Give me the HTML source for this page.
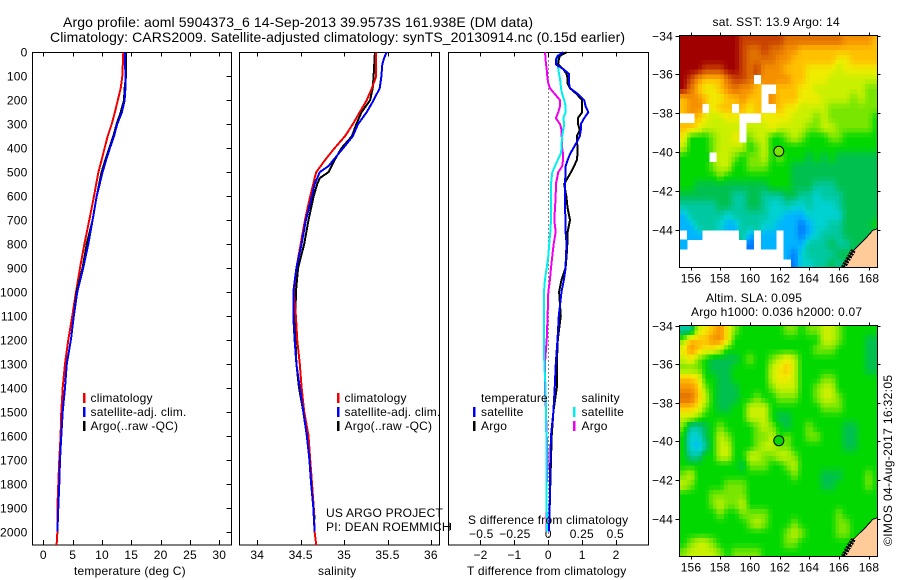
<!DOCTYPE html>
<html lang="en">
<head>
<meta charset="utf-8">
<title>Argo profile 5904373_6</title>
<style>
html,body{margin:0;padding:0;background:#fff;}
svg{display:block;}
text{font-family:"Liberation Sans",sans-serif;font-size:12px;fill:#000;letter-spacing:0.2px;}
.title{font-size:14px;letter-spacing:0;}
</style>
</head>
<body>
<svg id="chart" xmlns="http://www.w3.org/2000/svg" width="900" height="580" viewBox="0 0 900 580">
  <text class="title" x="63" y="27" textLength="470" lengthAdjust="spacing">Argo profile: aoml 5904373_6 14-Sep-2013 39.9573S 161.938E (DM data)</text>
  <text class="title" x="50" y="42" textLength="575" lengthAdjust="spacing">Climatology: CARS2009. Satellite-adjusted climatology: synTS_20130914.nc (0.15d earlier)</text>

  <g id="layer-profiles"></g>
  <g id="layer-maps"></g>

  <text x="74" y="575">temperature (deg C)</text>
  <text x="318" y="575">salinity</text>
  <text x="467" y="575">T difference from climatology</text>
  <text x="468" y="524">S difference from climatology</text>

  <rect x="83" y="393" width="2.5" height="10" fill="#f00000"/>
  <text x="90.500" y="402">climatology</text>
  <rect x="83" y="407" width="2.5" height="10" fill="#0000f0"/>
  <text x="90.500" y="416">satellite-adj. clim.</text>
  <rect x="83" y="421" width="2.5" height="10" fill="#000"/>
  <text x="90.500" y="430">Argo(..raw -QC)</text>

  <rect x="337" y="393" width="2.5" height="10" fill="#f00000"/>
  <text x="344.500" y="402">climatology</text>
  <rect x="337" y="407" width="2.5" height="10" fill="#0000f0"/>
  <text x="344.500" y="416">satellite-adj. clim.</text>
  <rect x="337" y="421" width="2.5" height="10" fill="#000"/>
  <text x="344.500" y="430">Argo(..raw -QC)</text>

  <text x="481" y="402">temperature</text>
  <rect x="473" y="407" width="2.5" height="10" fill="#0000f0"/>
  <text x="481" y="416">satellite</text>
  <rect x="473" y="421" width="2.5" height="10" fill="#000"/>
  <text x="481" y="430">Argo</text>
  <text x="581.500" y="402">salinity</text>
  <rect x="573" y="407" width="2.5" height="10" fill="#00f0f0"/>
  <text x="581.500" y="416">satellite</text>
  <rect x="573" y="421" width="2.5" height="10" fill="#f000f0"/>
  <text x="581.500" y="430">Argo</text>

  <text x="326" y="517">US ARGO PROJECT</text>
  <text x="326" y="531">PI: DEAN ROEMMICH</text>

  <text x="712.500" y="26">sat. SST: 13.9 Argo: 14</text>
  <text x="706" y="302">Altim. SLA: 0.095</text>
  <text x="691" y="316">Argo h1000: 0.036 h2000: 0.07</text>
  <text transform="translate(892,546) rotate(-90)" style="letter-spacing:0.35px">©IMOS 04-Aug-2017 16:32:05</text>
</svg>
<script>
const depthTicks = [0,100,200,300,400,500,600,700,800,900,1000,1100,1200,1300,1400,1500,1600,1700,1800,1900,2000];
const tempTicks = [0,5,10,15,20,25,30];
const salTicks = [34,34.5,35,35.5,36];
const tDiffTicks = [-2,-1,0,1,2];
const sDiffTicks = [-0.5,-0.25,0,0.25,0.5];
const sDiffTickLabels = ['−0.5','−0.25','0','0.25','0.5'];
const tDiffTickLabels = ['−2','−1','0','1','2'];
const lonTicks = [156,158,160,162,164,166,168];
const latTicks = [-34,-36,-38,-40,-42,-44];

const tempClimDepth = [0,100,150,200,250,300,350,400,450,500,600,700,800,900,1000,1100,1200,1300,1400,1500,1600,1700,1800,1900,2000,2057];
const tempClim = [13.64,13.47,13.2,12.7,12.2,11.65,10.97,10.45,9.94,9.4,8.64,7.84,7,6.25,5.57,4.94,4.26,3.7,3.3,3.07,2.95,2.73,2.56,2.4,2.4,2.27];
const tempSatDepth = [0,100,150,200,250,300,350,400,450,500,600,700,800,900,1000,1100,1200,1300,1400,1500,1600,1700,1800,1900,2000];
const tempSat = [13.9,14,14,13.86,13.4,12.6,12.05,11.36,10.7,10.1,9.1,8.4,7.67,6.8,5.8,5.2,4.7,4,3.7,3.3,3.07,2.84,2.73,2.56,2.4];
const tempArgo = [14.1,14.1,13.86,13.75,13.2,12.5,11.93,11.25,10.57,9.94,9.1,8.4,7.4,6.7,5.7,5.2,4.7,4,3.7,3.3,3.07,2.84,2.73,2.56,2.4];

const salClimDepth = [0,100,150,200,250,300,350,400,450,500,525,550,600,700,800,900,1000,1100,1200,1300,1400,1500,1600,1700,1800,1900,2000,2057];
const salClim = [35.37,35.37,35.32,35.26,35.18,35.1,35.01,34.89,34.78,34.68,34.66,34.645,34.61,34.55,34.5,34.45,34.42,34.445,34.46,34.49,34.51,34.54,34.59,34.61,34.63,34.65,34.66,34.68];
const salSatDepth = [0,25,50,100,150,200,250,300,350,400,450,475,500,550,600,700,800,900,1000,1100,1200,1300,1400,1500,1600,1700,1800,1900,2000];
const salSat = [35.49,35.46,35.44,35.43,35.41,35.34,35.26,35.16,35.1,34.99,34.875,34.82,34.72,34.66,34.63,34.56,34.51,34.45,34.415,34.415,34.43,34.45,34.49,34.53,34.57,34.6,34.62,34.645,34.66];
const salArgoDepth = [0,100,150,200,250,300,350,400,450,500,525,550,600,700,800,900,1000,1100,1200,1300,1400,1500,1600,1700,1800,1900,1950];
const salArgo = [35.355,35.34,35.33,35.3,35.2,35.14,35.09,34.97,34.89,34.82,34.72,34.69,34.65,34.59,34.54,34.47,34.445,34.44,34.44,34.45,34.48,34.53,34.57,34.6,34.625,34.65,34.66];

const diffDepths = [0,15,30,50,70,90,110,130,150,175,200,225,250,275,300,325,350,375,400,425,450,475,500,550,600,650,700,750,800,850,900,950,1000,1100,1200,1300,1400,1500,1600,1700,1800,1900,2000];
const tDiffSat = [.44,.28,.22,.22,.44,.61,.61,.61,.64,.88,1.06,1.10,1.18,1.06,.96,.96,.93,.84,.74,.64,.57,.51,.51,.49,.49,.49,.51,.51,.54,.52,.51,.46,.39,.31,.27,.22,.19,.15,.08,.06,.05,.04,.02];
const tDiffArgo = [.54,.34,.31,.29,.44,.54,.57,.57,.64,.84,1.0,1.0,1.0,.87,.88,.93,.84,.85,.86,.86,.84,.76,.67,.47,.53,.57,.64,.57,.56,.54,.51,.39,.32,.37,.28,.25,.25,.15,.1,.08,.06,.04,.02];
const sDiffSat = [.112,.087,.062,.07,.075,.08,.087,.092,.095,.104,.119,.129,.129,.112,.119,.112,.104,.1,.1,.092,.07,.05,.03,.02,.02,.02,.02,.015,.007,0,-.012,-.025,-.032,-.032,-.032,-.03,-.02,-.017,-.015,-.015,-.012,-.012,-.01];
const sDiffArgo = [-.025,-.022,-.02,-.017,-.012,-.01,-.005,0,.012,.05,.087,.087,.075,.057,.087,.1,.1,.104,.104,.11,.11,.104,.075,.057,.055,.05,.045,.055,.04,.03,.02,.012,0,-.005,-.012,-.025,-.025,-.017,-.012,-.005,-.012,-.012,-.012];

const sstLevels = [
[13,13,13,13,13,13,13,13,12,12,12,12,12,12,11,11,11,11,11,11,11,11,10,10,10,10,9],
[13,13,13,13,13,13,13,13,12,11,11,12,11,11,10,10,9,9,9,9,9,9,9,9,9,9,9],
[13,13,13,13,13,13,13,13,12,11,11,11,11,10,10,9,9,9,9,9,9,8,8,9,9,9,9],
[13,13,13,12,12,12,13,13,12,11,12,10,10,10,9,9,9,8,8,8,8,7,8,8,8,8,8],
[13,12,10,9,9,9,11,12,12,11,-1,10,10,10,10,9,9,8,8,8,7,7,7,7,7,7,7],
[13,11,9,8,8,9,10,11,10,10,9,-1,-1,9,9,9,8,8,7,7,7,7,7,7,7,6,6],
[9,10,10,9,8,8,9,9,10,9,9,-1,10,9,9,9,8,8,8,7,7,7,7,6,7,6,6],
[9,10,10,-1,8,9,9,-1,9,8,9,-1,-1,9,8,8,7,7,7,7,6,6,6,6,6,6,6],
[-1,-1,9,8,7,7,8,8,-1,-1,-1,8,8,8,8,7,7,7,6,7,6,6,6,6,6,6,5],
[9,9,8,7,7,7,7,7,-1,7,7,7,8,7,7,7,7,6,6,7,7,6,6,6,6,6,5],
[8,5,5,5,6,7,7,8,-1,6,7,7,5,5,6,7,6,5,5,5,6,6,5,5,5,5,5],
[7,5,5,5,6,7,7,7,7,5,6,7,5,5,5,5,5,5,5,5,5,5,5,5,5,5,5],
[5,5,5,5,-1,7,7,6,5,6,6,7,5,6,5,5,5,4,5,4,5,4,4,4,4,4,4],
[5,5,5,5,6,7,7,5,5,6,6,6,5,5,5,4,4,4,4,4,4,4,4,4,4,4,4],
[5,5,5,5,5,6,5,5,5,5,5,5,5,5,5,4,4,4,4,4,4,4,4,4,4,4,4],
[5,5,4,4,4,4,4,4,4,4,4,4,5,5,5,4,4,4,3,3,3,4,4,4,4,4,4],
[4,4,4,4,4,4,4,3,3,4,4,3,3,3,4,4,3,3,2,3,3,3,4,4,4,4,4],
[3,3,3,3,3,4,4,3,3,4,4,3,2,2,3,2,2,3,2,2,2,3,4,4,4,4,4],
[1,3,3,3,3,3,2,3,3,3,3,3,2,2,1,1,1,2,2,2,2,2,4,4,4,4,4],
[1,1,3,3,3,2,1,1,3,3,3,2,2,1,1,1,0,1,2,2,3,3,4,4,4,4,5],
[-1,1,1,-1,-1,-1,-1,-1,3,1,-1,1,1,-1,1,1,0,1,2,3,3,3,4,4,4,4,4],
[1,-1,-1,-1,-1,-1,-1,-1,-1,0,-1,1,1,-1,1,1,1,3,3,3,4,3,3,4,4,4,4],
[-1,-1,-1,-1,-1,-1,-1,-1,-1,-1,-1,-1,-1,-1,1,0,2,3,3,3,3,4,4,4,4,4,4],
[-1,-1,-1,-1,-1,-1,-1,-1,-1,-1,-1,-1,-1,-1,-1,0,2,2,3,3,4,3,4,4,4,4,4]
];
const slaLevels = [
[3,3,7,8,9,10,8,6,5,5,5,5,5,5,6,6,5,6,6,7,7,6,5,5,5,5,5],
[6,9,9,9,10,10,8,5,5,5,5,5,5,5,5,5,5,5,5,7,7,6,5,5,5,4,4],
[8,10,9,8,8,7,5,5,5,5,5,5,5,5,5,5,5,5,6,6,6,5,5,5,5,4,4],
[7,8,6,5,4,4,4,4,5,6,5,5,6,7,8,7,5,5,5,5,5,5,5,5,5,4,4],
[6,6,6,5,4,4,4,5,5,5,5,5,7,8,9,7,5,5,5,5,5,5,5,5,5,4,4],
[9,9,8,5,5,4,4,5,5,5,5,5,7,8,8,7,5,5,5,6,6,5,5,5,5,5,5],
[10,10,9,6,5,4,4,4,5,5,5,5,6,7,7,7,5,5,6,7,7,5,5,5,5,5,5],
[11,11,9,7,5,4,4,4,5,5,6,5,5,6,6,6,5,5,6,7,7,6,5,5,5,5,5],
[9,9,8,6,5,4,4,5,5,7,7,7,5,5,5,5,5,5,5,6,6,6,5,5,5,5,5],
[7,7,6,5,5,5,5,5,5,7,7,7,5,4,4,5,5,5,5,5,5,5,5,5,5,5,5],
[6,3,3,4,5,6,5,5,5,5,6,7,6,5,4,5,5,6,5,5,5,5,4,4,5,5,5],
[5,2,2,4,5,7,6,5,5,5,6,6,7,5,6,5,5,6,6,5,5,5,4,4,5,5,5],
[5,2,1,3,5,7,7,5,5,5,6,7,7,6,6,5,5,5,5,5,5,5,4,4,5,5,5],
[5,3,3,5,5,7,7,5,5,7,7,6,6,7,7,6,5,5,5,5,5,5,5,5,5,5,5],
[5,5,5,5,5,5,5,5,4,6,6,6,5,5,6,7,5,5,5,5,5,5,5,5,5,5,5],
[6,7,5,5,5,5,5,5,5,5,5,5,5,5,5,6,5,5,5,4,4,4,5,5,5,6,5],
[7,6,5,5,5,5,6,6,6,5,5,5,5,5,5,5,5,5,5,4,4,5,5,5,5,6,5],
[5,5,5,5,6,6,6,6,6,5,5,5,5,5,5,5,5,5,5,5,5,5,5,5,5,5,5],
[5,5,5,5,6,7,6,6,7,5,5,5,5,5,5,5,5,5,5,5,5,5,5,5,5,5,5],
[5,5,5,5,5,6,5,5,6,6,6,6,5,5,5,5,5,5,5,5,5,6,5,5,5,5,5],
[5,5,5,5,5,5,5,5,5,6,7,6,5,5,5,6,5,5,5,5,5,6,6,5,5,5,5],
[5,5,5,5,5,5,5,5,5,5,5,5,5,5,6,7,6,5,5,5,5,6,6,5,5,5,5],
[5,6,7,7,6,5,5,5,5,5,5,5,5,5,6,6,5,5,5,5,5,5,5,5,5,5,5],
[6,7,7,7,7,6,5,6,6,6,6,5,5,5,5,5,5,5,5,5,5,5,5,5,5,5,5]
];
const levelColours = ['#0078ff','#00b4ff','#00d2d2','#00c8a0','#00c050','#00d800','#78e600','#c8f000','#f0ec00','#ffc000','#f59000','#e07000','#c84000','#a00000'];
const coastLon = [168.75,168.58,168.27,167.87,167.42,166.97,166.63,166.29];
const coastLat = [-43.95,-43.95,-44.03,-44.38,-44.72,-45.06,-45.49,-45.94];
const profileLat = -39.9573;
const profileLon = 161.938;
const sstAtProfile = 6;
const slaAtProfile = 5;

const NS = 'http://www.w3.org/2000/svg';
const profiles = document.getElementById('layer-profiles');
const maps = document.getElementById('layer-maps');
function mk(tag, attrs, parent) {
  const el = document.createElementNS(NS, tag);
  for (const k in attrs) el.setAttribute(k, attrs[k]);
  parent.appendChild(el);
  return el;
}

const plotTop = 52.5, plotBottom = 545;
const yDepth = d => 52.3 + d * 0.2396;
const xTemp = t => 43.3 + t * 5.867;
const xSal = s => 257.3 + (s - 34) * 86.8;
const xTDiff = t => 548.3 + t * 33.9;
const xSDiff = s => 548.3 + s * 134;

function drawFrame(x0, x1, name) {
  const r = mk('rect', {x:x0, y:plotTop, width:x1-x0, height:plotBottom-plotTop, fill:'none', stroke:'#000', 'stroke-width':1, 'shape-rendering':'crispEdges'}, profiles);
  
  
}
function drawXTick(x, tickName) {
  const a = mk('line', {x1:x, x2:x, y1:plotTop, y2:plotTop+4, stroke:'#000', 'shape-rendering':'crispEdges'}, profiles);
  
  
  const b = mk('line', {x1:x, x2:x, y1:plotBottom, y2:plotBottom-5, stroke:'#000', 'shape-rendering':'crispEdges'}, profiles);
  
  
}
function drawLabel(str, x, y, anchor, name, parent) {
  const t = mk('text', {x:x, y:y, 'text-anchor':anchor}, parent);
  t.textContent = str;
  
  
}
function drawSeries(depths, values, xf, colour, name) {
  const pts = depths.map((d,i) => xf(values[i]).toFixed(1) + ',' + yDepth(d).toFixed(1)).join(' ');
  const p = mk('polyline', {points:pts, fill:'none', stroke:colour, 'stroke-width':2, 'shape-rendering':'crispEdges'}, profiles);
  
  
}

drawFrame(32.5, 231.5, 'temperature-panel-frame');
drawFrame(239.5, 439.5, 'salinity-panel-frame');
drawFrame(448.5, 648.5, 'difference-panel-frame');

depthTicks.forEach(d => {
  const y = Math.round(yDepth(d)) + 0.5;
  const t = mk('line', {x1:226.5, x2:231.5, y1:y, y2:y, stroke:'#000', 'shape-rendering':'crispEdges'}, profiles);
  
  
  drawLabel(String(d), 27.5, y + 4, 'end', 'depth-tick-label', profiles);
});
tempTicks.forEach(v => {
  drawXTick(Math.round(xTemp(v)) + 0.5, 'temperature-tick');
  drawLabel(String(v), xTemp(v), 559, 'middle', 'temperature-tick-label', profiles);
});
salTicks.forEach(v => {
  drawXTick(Math.round(xSal(v)) + 0.5, 'salinity-tick');
  drawLabel(String(v), xSal(v), 559, 'middle', 'salinity-tick-label', profiles);
});
tDiffTicks.forEach((v,i) => {
  drawXTick(Math.round(xTDiff(v)) + 0.5, 't-difference-tick');
  drawLabel(tDiffTickLabels[i], xTDiff(v), 559, 'middle', 't-difference-tick-label', profiles);
});
sDiffTicks.forEach((v,i) => {
  drawLabel(sDiffTickLabels[i], xSDiff(v), 538, 'middle', 's-difference-tick-label', profiles);
});

const zeroLine = mk('line', {x1:548.5, x2:548.5, y1:plotTop, y2:plotBottom, stroke:'#000', 'stroke-dasharray':'1 3', 'shape-rendering':'crispEdges'}, profiles);


const stub = mk('path', {d:'M445 526.5H450.500M450.500 523V530', fill:'none', stroke:'#000', 'shape-rendering':'crispEdges'}, profiles);



drawSeries(tempClimDepth, tempClim, xTemp, '#f00000', 'temperature-climatology-line');
drawSeries(tempSatDepth, tempArgo, xTemp, '#000000', 'temperature-argo-line');
drawSeries(tempSatDepth, tempSat, xTemp, '#0000f0', 'temperature-satellite-line');

drawSeries(salArgoDepth, salArgo, xSal, '#000000', 'salinity-argo-line');
drawSeries(salClimDepth, salClim, xSal, '#f00000', 'salinity-climatology-line');
drawSeries(salSatDepth, salSat, xSal, '#0000f0', 'salinity-satellite-line');

drawSeries(diffDepths, sDiffArgo, xSDiff, '#f000f0', 's-difference-argo-line');
drawSeries(diffDepths, sDiffSat, xSDiff, '#00f0f0', 's-difference-satellite-line');
drawSeries(diffDepths, tDiffArgo, xTDiff, '#000000', 't-difference-argo-line');
drawSeries(diffDepths, tDiffSat, xTDiff, '#0000f0', 't-difference-satellite-line');

function levelColour(v) {
  const lo = Math.max(0, Math.min(levelColours.length - 1, Math.floor(v)));
  const hi = Math.min(levelColours.length - 1, lo + 1);
  const f = Math.max(0, Math.min(1, v - lo));
  const parse = c => [1,3,5].map(i => parseInt(c.substr(i,2), 16));
  const a = parse(levelColours[lo]), b = parse(levelColours[hi]);
  return 'rgb(' + a.map((ch,i) => Math.round(ch + (b[i]-ch)*f)).join(',') + ')';
}
function mapAxes(top, bottom, latPx) {
  return {
    left: 679.5, right: 877.5, top: top, bottom: bottom,
    x: lon => 690.7 + (lon - 156) * 14.83,
    y: lat => top + (-34 - lat) * latPx
  };
}
function drawMap(grid, ax, subdivide, cellName, prefix, dotLevel) {
  const clip = mk('clipPath', {id:prefix + '-clip'}, maps);
  mk('rect', {x:ax.left, y:ax.top, width:ax.right-ax.left, height:ax.bottom-ax.top}, clip);
  const g = mk('g', {'clip-path':'url(#' + prefix + '-clip)', 'shape-rendering':'crispEdges'}, maps);
  
  
  const sample = (r,c) => grid[Math.max(0,Math.min(grid.length-1,r))][Math.max(0,Math.min(grid[0].length-1,c))];
  const step = 0.5 / subdivide;
  for (let r = 0; r < grid.length * subdivide; r++) {
    for (let c = 0; c < grid[0].length * subdivide; c++) {
      if (grid[Math.floor(r/subdivide)][Math.floor(c/subdivide)] < 0) continue;
      const gr = (r + 0.5) / subdivide - 0.5, gc = (c + 0.5) / subdivide - 0.5;
      const r0 = Math.floor(gr), c0 = Math.floor(gc), fr = gr - r0, fc = gc - c0;
      const nbrs = [[sample(r0,c0),(1-fr)*(1-fc)],[sample(r0,c0+1),(1-fr)*fc],[sample(r0+1,c0),fr*(1-fc)],[sample(r0+1,c0+1),fr*fc]];
      let sum = 0, wt = 0;
      nbrs.forEach(n => { if (n[0] >= 0) { sum += n[0]*n[1]; wt += n[1]; } });
      const v = sum / wt;
      const lon0 = 155.25 + c * step, lat0 = -34 - r * step;
      const cell = mk('rect', {x:ax.x(lon0).toFixed(2), y:ax.y(lat0).toFixed(2), width:(ax.x(lon0+step)-ax.x(lon0)+0.5).toFixed(2), height:(ax.y(lat0-step)-ax.y(lat0)+0.5).toFixed(2), fill:levelColour(v)}, g);
      
      
    }
  }
  const cx = coastLon.map(ax.x), cy = coastLat.map(ax.y);
  const coastPts = cx.map((x,i) => x.toFixed(1) + ',' + cy[i].toFixed(1));
  const land = mk('polygon', {points:coastPts.join(' ') + ' ' + ax.x(168.75) + ',' + ax.y(-46), fill:'#ffcc99', 'shape-rendering':'crispEdges'}, g);
  
  
  const coast = mk('polyline', {points:coastPts.join(' '), fill:'none', stroke:'#000', 'stroke-width':1, 'shape-rendering':'crispEdges'}, g);
  
  
  const hatch = mk('polyline', {points:coastPts.slice(5).join(' '), fill:'none', stroke:'#000', 'stroke-width':5, 'stroke-dasharray':'2 1', 'shape-rendering':'crispEdges'}, g);
  
  

  const frame = mk('rect', {x:ax.left, y:ax.top, width:ax.right-ax.left, height:ax.bottom-ax.top, fill:'none', stroke:'#000', 'shape-rendering':'crispEdges'}, maps);
  
  
  lonTicks.forEach(lon => {
    const x = Math.round(ax.x(lon)) + 0.5;
    const t = mk('path', {d:'M' + x + ' ' + (ax.top-3) + 'V' + ax.top + 'M' + x + ' ' + ax.bottom + 'V' + (ax.bottom+3), stroke:'#000', fill:'none', 'shape-rendering':'crispEdges'}, maps);
    
    
    drawLabel(String(lon), x - 0.5, ax.bottom + 15, 'middle', prefix + '-lon-label', maps);
  });
  latTicks.forEach(lat => {
    const y = Math.round(ax.y(lat)) + 0.5;
    const t = mk('path', {d:'M' + (ax.left-4) + ' ' + y + 'H' + ax.left + 'M' + ax.right + ' ' + y + 'H' + (ax.right+3), stroke:'#000', fill:'none', 'shape-rendering':'crispEdges'}, maps);
    
    
    drawLabel('−' + Math.abs(lat), 673, y + 4, 'end', prefix + '-lat-label', maps);
  });
  const dot = mk('circle', {cx:ax.x(profileLon).toFixed(1), cy:ax.y(profileLat).toFixed(1), r:5, fill:levelColour(dotLevel), stroke:'#000', 'stroke-width':1}, maps);
  
  
}
drawMap(sstLevels, mapAxes(35.5, 267.5, 19.43), 2, 'sst-cell', 'sst-map', sstAtProfile);
drawMap(slaLevels, mapAxes(325.5, 556.5, 19.33), 2, 'sla-cell', 'sla-map', slaAtProfile);
</script>
</body>
</html>
